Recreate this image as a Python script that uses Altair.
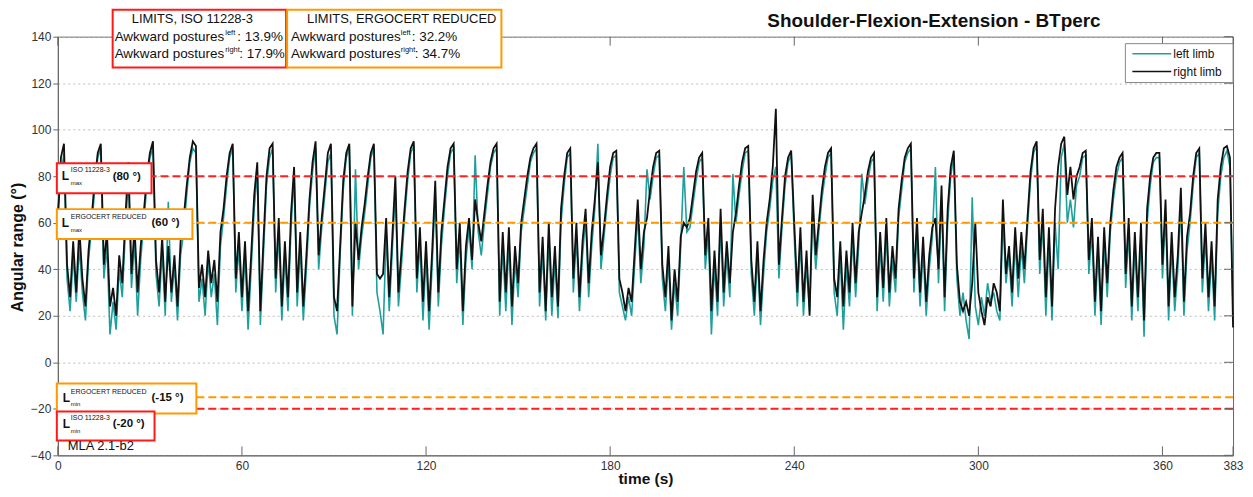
import altair as alt
import pandas as pd

# ---------------- data ----------------
time_s = list(range(384))

right_limb = [
    60, 88, 94, 42, 28, 52, 30, 58, 36, 24, 48, 62, 78, 90, 94, 42, 56, 24, 32, 20,
    46, 34, 62, 86, 38, 58, 30, 50, 64, 80, 90, 95, 44, 30, 54, 26, 50, 30, 46, 24,
    52, 62, 76, 88, 95, 93, 32, 42, 28, 48, 34, 44, 26, 56, 66, 80, 90, 94, 36, 56,
    28, 52, 22, 46, 72, 86, 22, 52, 80, 92, 94, 36, 62, 24, 52, 28, 64, 84, 30, 56,
    24, 46, 70, 86, 95, 46, 62, 76, 90, 94, 28, 22, 50, 78, 90, 94, 24, 60, 44, 58,
    68, 80, 90, 94, 38, 36, 38, 62, 28, 54, 80, 30, 48, 66, 82, 92, 95, 36, 58, 26,
    52, 22, 48, 78, 30, 56, 70, 84, 92, 94, 40, 60, 22, 50, 62, 44, 70, 60, 52, 64,
    76, 86, 92, 94, 26, 56, 30, 58, 24, 50, 34, 60, 70, 80, 88, 92, 94, 30, 54, 22,
    60, 28, 50, 24, 66, 80, 90, 92, 36, 60, 28, 52, 66, 34, 56, 70, 86, 46, 58, 72,
    84, 90, 91, 36, 30, 22, 32, 26, 48, 70, 40, 56, 62, 74, 84, 90, 91, 42, 28, 50,
    18, 40, 26, 54, 60, 58, 62, 72, 82, 88, 90, 46, 62, 22, 48, 26, 66, 30, 52, 34,
    56, 64, 76, 86, 92, 93, 44, 26, 52, 22, 44, 60, 70, 84, 109, 42, 62, 80, 88, 91,
    60, 30, 58, 26, 48, 20, 72, 46, 60, 74, 84, 90, 92, 36, 28, 52, 24, 48, 30, 60,
    34, 56, 64, 72, 82, 88, 90, 28, 56, 32, 62, 30, 50, 36, 66, 78, 88, 92, 94, 36,
    62, 30, 54, 26, 46, 58, 62, 40, 76, 28, 66, 84, 91, 42, 26, 22, 26, 20, 34, 60,
    30, 22, 16, 28, 24, 34, 30, 22, 70, 38, 50, 30, 58, 36, 56, 40, 62, 82, 92, 95,
    44, 66, 28, 58, 24, 66, 84, 94, 97, 72, 84, 70, 80, 84, 90, 91, 44, 62, 26, 54,
    22, 58, 34, 60, 74, 84, 88, 90, 38, 62, 24, 56, 28, 60, 18, 66, 80, 88, 90, 90,
    42, 70, 24, 56, 28, 46, 75, 26, 54, 64, 80, 90, 92, 36, 60, 28, 52, 24, 70, 84,
    92, 93, 88, 15,
]

left_limb = [
    66, 80, 90, 36, 22, 46, 26, 50, 30, 18, 44, 58, 74, 88, 92, 36, 50, 12, 26, 14,
    40, 28, 56, 80, 32, 52, 20, 44, 60, 76, 88, 92, 38, 24, 48, 20, 69, 26, 42, 18,
    46, 56, 72, 86, 92, 90, 26, 36, 20, 44, 28, 38, 16, 50, 62, 76, 88, 92, 30, 50,
    22, 46, 14, 40, 66, 82, 16, 46, 76, 88, 92, 30, 56, 18, 46, 22, 58, 80, 24, 50,
    18, 40, 66, 82, 92, 40, 58, 72, 86, 90, 20, 12, 46, 74, 88, 92, 20, 83, 40, 54,
    64, 76, 88, 92, 30, 22, 12, 56, 22, 48, 74, 24, 42, 62, 78, 90, 93, 30, 52, 18,
    46, 14, 42, 72, 24, 50, 66, 80, 90, 92, 34, 54, 16, 44, 58, 40, 89, 56, 46, 60,
    72, 84, 90, 92, 20, 50, 22, 52, 16, 44, 28, 56, 66, 76, 86, 90, 92, 24, 48, 18,
    54, 20, 44, 19, 60, 76, 88, 90, 30, 54, 22, 46, 62, 28, 50, 66, 94, 40, 54, 68,
    80, 88, 89, 30, 24, 18, 28, 20, 42, 64, 34, 50, 83, 70, 80, 88, 89, 36, 22, 44,
    14, 34, 20, 50, 84, 56, 58, 68, 78, 86, 88, 40, 56, 12, 42, 20, 60, 24, 46, 28,
    81, 60, 72, 82, 90, 91, 38, 20, 46, 16, 38, 56, 66, 78, 84, 36, 58, 76, 86, 89,
    54, 24, 52, 20, 42, 22, 64, 40, 56, 70, 80, 88, 90, 30, 20, 46, 14, 42, 24, 54,
    28, 50, 81, 68, 78, 86, 88, 22, 50, 26, 56, 24, 44, 30, 62, 74, 86, 90, 92, 30,
    56, 24, 48, 20, 40, 54, 84, 34, 70, 22, 60, 80, 89, 36, 20, 30, 18, 10, 71, 24,
    16, 28, 20, 34, 26, 30, 22, 18, 62, 34, 46, 24, 52, 28, 50, 34, 58, 78, 90, 93,
    38, 60, 20, 52, 18, 60, 40, 88, 94, 60, 70, 58, 76, 80, 88, 89, 38, 56, 20, 48,
    16, 52, 28, 56, 70, 80, 86, 88, 32, 56, 18, 50, 22, 54, 11, 60, 76, 86, 88, 88,
    36, 64, 18, 50, 22, 40, 68, 20, 48, 60, 76, 88, 90, 30, 54, 22, 46, 18, 64, 80,
    88, 91, 84, 22,
]

limit_levels = [80, 60, -15, -20]
limit_colors = ["#ff1f1f", "#ff9900", "#ff9900", "#ff1f1f"]

x_tick_values = [0, 60, 120, 180, 240, 300, 360, 383]
y_tick_values = [-40, -20, 0, 20, 40, 60, 80, 100, 120, 140]

assert len(right_limb) == len(time_s) and len(left_limb) == len(time_s)

# ---------------- layout / style ----------------
W, H = 1179, 420
TEAL = "#1f9f9c"
DARK = "#111111"
FONT = "Liberation Sans"
RED = "#ff1a1a"
ORANGE = "#ff9900"

xs = alt.Scale(domain=[0, 383], nice=False, zero=False)
ys = alt.Scale(domain=[-40, 140], nice=False, zero=False)

x_axis = alt.Axis(
    values=x_tick_values, title="time (s)", grid=False, ticks=False,
    labelPadding=5, labelFontSize=12, labelColor="#333", labelFont=FONT,
    labelFlush=False, labelOverlap=False, domainColor="#666",
    titleX=W / 2, titleY=23, titleBaseline="middle", titleAlign="center",
    titleFontSize=15.5, titleFontWeight="bold", titleFont=FONT, titleColor=DARK,
)
y_axis = alt.Axis(
    values=y_tick_values, title="Angular range (°)", grid=True,
    gridDash=[2, 3], gridColor="#bdbdbd", gridWidth=1,
    tickSize=5, tickColor="#666", labelPadding=2, labelFontSize=12,
    labelColor="#333", labelFont=FONT, domainColor="#666",
    titleAngle=270, titleX=-40, titleY=211, titleAlign="center",
    titleBaseline="middle", titleFontSize=16, titleFontWeight="bold",
    titleFont=FONT, titleColor=DARK,
)

df_left = pd.DataFrame({"t": time_s, "v": left_limb})
df_right = pd.DataFrame({"t": time_s, "v": right_limb})

left_line = alt.Chart(df_left).mark_line(color=TEAL, strokeWidth=1.6).encode(
    x=alt.X("t:Q", scale=xs, axis=x_axis),
    y=alt.Y("v:Q", scale=ys, axis=y_axis),
)
right_line = alt.Chart(df_right).mark_line(color=DARK, strokeWidth=1.8).encode(
    x=alt.X("t:Q", scale=xs, axis=x_axis),
    y=alt.Y("v:Q", scale=ys, axis=y_axis),
)

limits = alt.Chart(pd.DataFrame({"v": limit_levels, "c": limit_colors})).mark_rule(
    strokeDash=[8, 4], strokeWidth=2
).encode(
    y=alt.Y("v:Q", scale=ys, axis=y_axis),
    color=alt.Color("c:N", scale=None),
)

xt = pd.DataFrame({"t": x_tick_values})
yt = pd.DataFrame({"v": y_tick_values})
tick_bottom = alt.Chart(xt).mark_rule(color="#666").encode(
    x=alt.X("t:Q", scale=xs, axis=x_axis), y=alt.value(H - 9), y2=alt.value(H))
tick_top = alt.Chart(xt).mark_rule(color="#666").encode(
    x=alt.X("t:Q", scale=xs, axis=x_axis), y=alt.value(0), y2=alt.value(9))
tick_right = alt.Chart(yt).mark_rule(color="#666").encode(
    y=alt.Y("v:Q", scale=ys, axis=y_axis), x=alt.value(W - 9), x2=alt.value(W))

dummy = pd.DataFrame({"k": [0]})


def box(x1, y1, x2, y2, color, sw=2):
    return alt.Chart(dummy).mark_rect(fill="white", stroke=color, strokeWidth=sw).encode(
        x=alt.value(x1), x2=alt.value(x2), y=alt.value(y1), y2=alt.value(y2))


def label(x, y, text, size, bold=False, align="left", color=DARK):
    return alt.Chart(dummy).mark_text(
        text=text, fontSize=size, font=FONT, align=align, baseline="middle",
        fontWeight="bold" if bold else "normal", color=color,
    ).encode(x=alt.value(x), y=alt.value(y))


def seg(x1, x2, y, color, sw=1.5):
    return alt.Chart(dummy).mark_rule(color=color, strokeWidth=sw).encode(
        x=alt.value(x1), x2=alt.value(x2), y=alt.value(y))


ann = [
    # top summary boxes
    box(55, -27, 229, 31, RED),
    box(230, -27, 445, 31, ORANGE),
    label(135, -18, "LIMITS, ISO 11228-3", 13, align="center"),
    label(57, 0, "Awkward postures", 13.5),
    label(168, -4, "left", 7.5),
    label(180, 0, ": 13.9%", 13.5),
    label(57, 17, "Awkward postures", 13.5),
    label(168, 13, "right", 7.5),
    label(182, 17, ": 17.9%", 13.5),
    label(345, -18, "LIMITS, ERGOCERT REDUCED", 13, align="center"),
    label(234, 0, "Awkward postures", 13.5),
    label(344, -4, "left", 7.5),
    label(355, 0, ": 32.2%", 13.5),
    label(234, 17, "Awkward postures", 13.5),
    label(344, 13, "right", 7.5),
    label(358, 17, ": 34.7%", 13.5),
    # limit labels
    box(-1, 127, 94, 157, RED),
    label(4, 140, "L", 12, bold=True),
    label(13, 134, "ISO 11228-3", 7),
    label(13, 147, "max", 6),
    label(55, 141, "(80 °)", 11.5, bold=True),
    box(-1, 173, 135, 203, ORANGE),
    label(4, 187, "L", 12, bold=True),
    label(13, 181, "ERGOCERT REDUCED", 7),
    label(13, 194, "max", 6),
    label(94, 187, "(60 °)", 11.5, bold=True),
    box(-1, 348, 139, 378, ORANGE),
    label(5, 362, "L", 12, bold=True),
    label(13, 356, "ERGOCERT REDUCED", 7),
    label(13, 369, "min", 6),
    label(94, 362, "(-15 °)", 11.5, bold=True),
    box(-1, 376, 97, 405, RED),
    label(5, 389, "L", 12, bold=True),
    label(13, 383, "ISO 11228-3", 7),
    label(13, 396, "min", 6),
    label(55, 389, "(-20 °)", 11.5, bold=True),
    label(10, 411, "MLA 2.1-b2", 13),
    # title
    label(879, -16, "Shoulder-Flexion-Extension - BTperc", 19, bold=True, align="center"),
    # legend
    box(1071, 7, 1179, 46, "#888", sw=1),
    seg(1078, 1117, 17, TEAL),
    seg(1078, 1117, 35, DARK),
    label(1119, 17, "left limb", 12),
    label(1119, 35, "right limb", 12),
]

chart = alt.layer(
    left_line, right_line, limits, tick_bottom, tick_top, tick_right, *ann
).properties(
    width=W, height=H,
    autosize=alt.AutoSizeParams(type="none"),
    padding={"left": 50, "top": 28, "right": 12, "bottom": 33},
).configure_view(stroke="#666", strokeWidth=1)

chart.save("out.html", embed_options={"renderer": "svg", "actions": False})
